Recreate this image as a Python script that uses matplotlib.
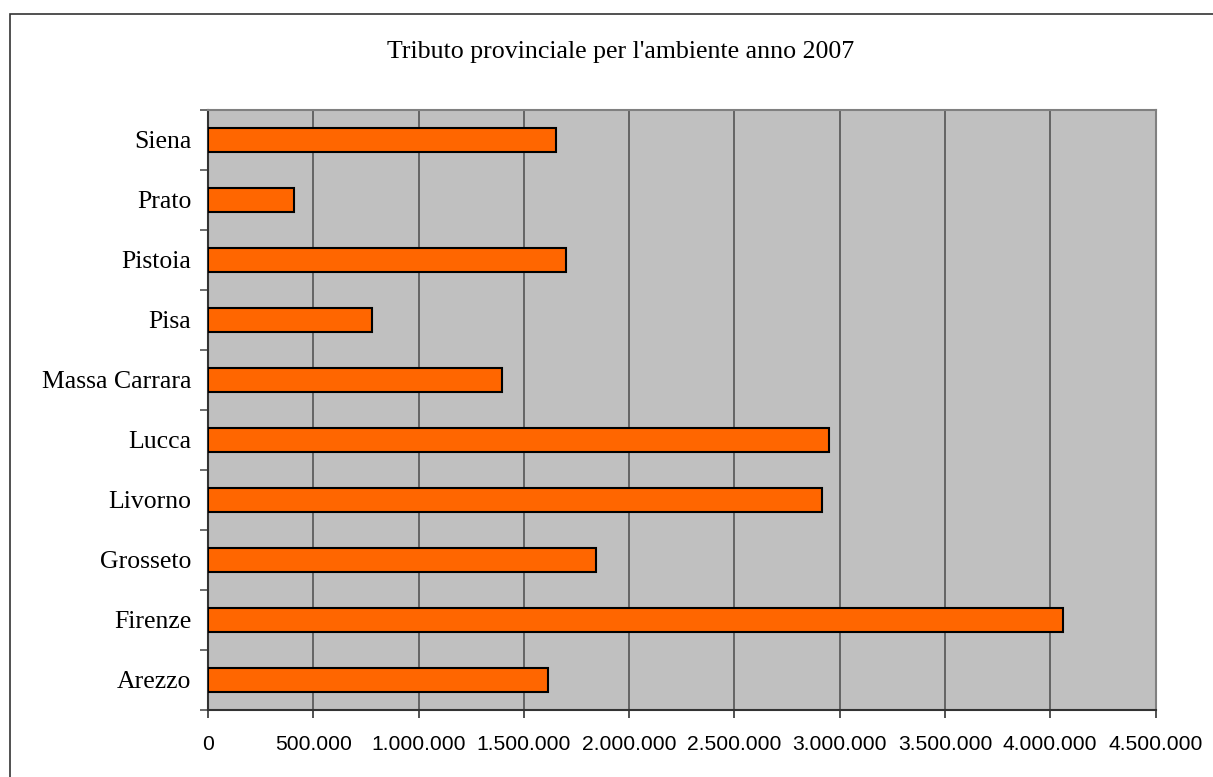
import matplotlib.pyplot as plt
from matplotlib.patches import Rectangle
from matplotlib.ticker import FuncFormatter, MultipleLocator, FixedLocator

# Dati: tributo provinciale per l'ambiente, anno 2007
province = ['Arezzo', 'Firenze', 'Grosseto', 'Livorno', 'Lucca',
            'Massa Carrara', 'Pisa', 'Pistoia', 'Prato', 'Siena']
tributo = [1615000, 4060000, 1843000, 2918000, 2947000,
           1397000, 779000, 1701000, 409000, 1653000]

titolo = "Tributo provinciale per l'ambiente anno 2007"

fig = plt.figure(figsize=(12.13, 7.77), dpi=100)
fig.patch.set_facecolor('white')

# bordo esterno del grafico (tagliato a destra e in basso come nell'originale)
fig.patches.append(Rectangle((10 / 1213, -0.05), 1.2, 1 - 14 / 777 + 0.05,
                             transform=fig.transFigure, fill=False,
                             edgecolor='#333333', linewidth=1.2))

ax = fig.add_axes([208 / 1213, 1 - 710 / 777, (1155.5 - 208) / 1213, 600 / 777])
ax.set_facecolor('#c0c0c0')

pos = list(range(len(province)))
ax.barh(pos, tributo, height=0.4, color='#ff6600', edgecolor='black',
        linewidth=1.5, zorder=3)

ax.set_xlim(0, 4500000)
ax.set_ylim(-0.5, len(province) - 0.5)

ax.xaxis.set_major_locator(MultipleLocator(500000))
ax.xaxis.set_major_formatter(FuncFormatter(
    lambda v, p: '0' if v == 0 else f'{int(v):,}'.replace(',', '.')))
ax.grid(axis='x', color='#555555', linewidth=1.2, zorder=1)

# etichette province al centro, tacche ai bordi delle categorie
ax.set_yticks(pos)
ax.set_yticklabels(province, fontfamily='Liberation Serif', fontsize=18.5)
ax.tick_params(axis='y', which='major', length=0, pad=12)
ax.yaxis.set_minor_locator(FixedLocator([p - 0.5 for p in range(len(province) + 1)]))
ax.tick_params(axis='y', which='minor', length=6, width=1.2, color='#555555')

for lab in ax.get_xticklabels():
    lab.set_fontfamily('Liberation Sans')
ax.tick_params(axis='x', labelsize=15.2, length=6, width=1.2, color='#333333', pad=12)

for s in ['top', 'right']:
    ax.spines[s].set_color('#808080')
    ax.spines[s].set_linewidth(1.5)
for s in ['left', 'bottom']:
    ax.spines[s].set_color('#333333')
    ax.spines[s].set_linewidth(1.5)

fig.text(0.5115, 1 - 52 / 777, titolo, ha='center', va='center',
         fontfamily='Liberation Serif', fontsize=18.6)

fig.savefig('out.png', dpi=100)
